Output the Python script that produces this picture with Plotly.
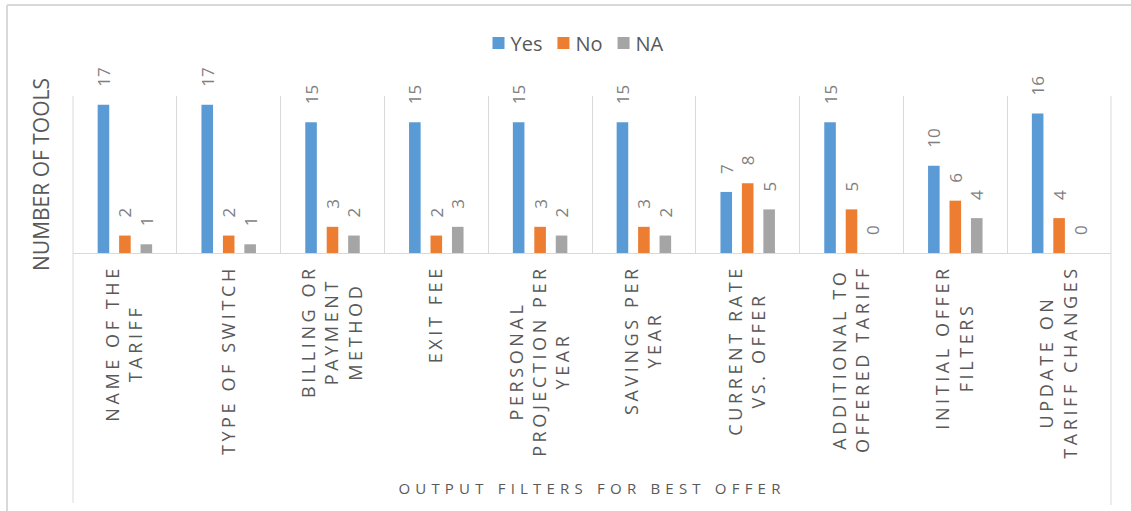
import plotly.graph_objects as go

# ---------------- data ----------------
categories = [
    "Name of the tariff", "Type of switch", "Billing or payment method", "Exit fee",
    "Personal projection per year", "Savings per year", "Current rate vs. offer",
    "Additional to offered tariff", "Initial offer filters", "Update on tariff changes",
]
tick_labels = [
    "NAME OF THE<br>TARIFF", "TYPE OF SWITCH", "BILLING OR<br>PAYMENT<br>METHOD", "EXIT FEE",
    "PERSONAL<br>PROJECTION PER<br>YEAR", "SAVINGS PER<br>YEAR", "CURRENT RATE<br>VS. OFFER",
    "ADDITIONAL TO<br>OFFERED TARIFF", "INITIAL OFFER<br>FILTERS", "UPDATE ON<br>TARIFF CHANGES",
]
yes_values = [17, 17, 15, 15, 15, 15, 7, 15, 10, 16]
no_values = [2, 2, 3, 2, 3, 3, 8, 5, 6, 4]
na_values = [1, 1, 2, 3, 2, 2, 5, 0, 4, 0]

series = [("Yes", yes_values, "#5B9BD5"), ("No", no_values, "#ED7D31"), ("NA", na_values, "#A5A5A5")]

FONT = "Open Sans"
TXT = "#595959"
GRID = "#D9D9D9"

W, H = 1131, 511
ML, MR, MT, MB = 73, 20, 96, 258
PW, PH = W - ML - MR, H - MT - MB


def px_x(px):
    return (px - ML) / PW


def px_y(py):
    return (H - MB - py) / PH


fig = go.Figure()
for name, vals, col in series:
    fig.add_trace(go.Bar(
        name=name, x=categories, y=vals, marker=dict(color=col, line=dict(width=0)),
        text=vals, textposition="outside", textangle=-90,
        textfont=dict(family=FONT, size=17, color="#7F7F7F"),
        cliponaxis=False, constraintext="none",
    ))

shapes = [
    # long left / right category boundaries
    dict(type="line", xref="paper", yref="paper", x0=0, x1=0, y0=1, y1=px_y(503),
         line=dict(color=GRID, width=1)),
    dict(type="line", xref="paper", yref="paper", x0=1, x1=1, y0=1, y1=px_y(505),
         line=dict(color=GRID, width=1)),
    # chart border (left and top)
    dict(type="line", xref="paper", yref="paper", x0=px_x(7), x1=px_x(7), y0=px_y(5), y1=px_y(512),
         line=dict(color=GRID, width=2)),
    dict(type="line", xref="paper", yref="paper", x0=px_x(7), x1=px_x(1132), y0=px_y(5), y1=px_y(5),
         line=dict(color=GRID, width=2)),
]

fig.update_layout(
    width=W, height=H, autosize=False,
    margin=dict(l=ML, r=MR, t=MT, b=MB, pad=0),
    paper_bgcolor="white", plot_bgcolor="white",
    font=dict(family=FONT, color=TXT),
    barmode="group", bargap=0.38, bargroupgap=0.46,
    showlegend=True,
    legend=dict(orientation="h", x=px_x(574), xanchor="center", y=px_y(43), yanchor="middle",
                font=dict(family=FONT, size=20, color=TXT), bgcolor="rgba(0,0,0,0)"),
    shapes=shapes,
    xaxis=dict(
        type="category", tickmode="array", tickvals=categories, ticktext=tick_labels,
        tickson="boundaries", showgrid=True, gridcolor=GRID, gridwidth=1,
        showline=True, linecolor=GRID, linewidth=1, ticks="", tickangle=-90,
        tickfont=dict(family=FONT, size=18, color=TXT), ticklabelstandoff=4,
        automargin=False,
        title=dict(text="OUTPUT FILTERS FOR BEST OFFER", font=dict(family=FONT, size=15, color=TXT),
                   standoff=76),
    ),
    yaxis=dict(
        range=[0, 18], showticklabels=False, showgrid=False, zeroline=False, showline=False,
        ticks="", automargin=False,
        title=dict(text="NUMBER OF TOOLS", font=dict(family=FONT, size=21, color=TXT), standoff=16),
    ),
)

post = """
var gd = document.getElementById('{plot_id}');
gd.querySelectorAll('.xtick text').forEach(function(t){
  t.style.letterSpacing = '3.6px';
  var lines = t.querySelectorAll('tspan.line');
  if (lines.length < 2) return;
  var w = 0;
  lines.forEach(function(l){ w = Math.max(w, l.getComputedTextLength()); });
  var a = t.getAttribute('text-anchor');
  var sgn = (a === 'end') ? -1 : (a === 'start' ? 1 : 0);
  t.setAttribute('text-anchor', 'middle');
  lines.forEach(function(l){
    var x = parseFloat(l.getAttribute('x')) || 0;
    l.setAttribute('x', x + sgn * w / 2);
  });
});
var xt = gd.querySelector('.g-xtitle text');
if (xt) { xt.style.letterSpacing = '5.2px'; }
gd.querySelectorAll('.bars .point text').forEach(function(t){
  var tr = t.getAttribute('transform') || '';
  t.setAttribute('transform', 'translate(0,-15) ' + tr);
});
// tighter legend: symbol-to-text gap and item spacing like the office style
try {
  var items = Array.prototype.slice.call(gd.querySelectorAll('.legend .traces'));
  if (items.length) {
    var parse = function(g){
      var m = /translate\\(\\s*([-\\d.e]+)[ ,]+([-\\d.e]+)/.exec(g.getAttribute('transform') || '');
      return m ? [parseFloat(m[1]), parseFloat(m[2])] : [0, 0];
    };
    var first = parse(items[0]);
    var lastOld = parse(items[items.length - 1]);
    var lens = items.map(function(g){ return g.querySelector('.legendtext').getComputedTextLength(); });
    var oldRight = lastOld[0] + 40 + lens[lens.length - 1];
    var xs = [first[0]];
    for (var i = 1; i < items.length; i++) { xs.push(xs[i - 1] + lens[i - 1] + 33); }
    var newRight = xs[xs.length - 1] + 32 + lens[lens.length - 1];
    var shift = (oldRight - newRight) / 2;
    items.forEach(function(g, i){
      var p = parse(g);
      g.querySelector('.legendtext').setAttribute('x', 32);
      g.setAttribute('transform', 'translate(' + (xs[i] + shift) + ',' + p[1] + ')');
    });
  }
} catch (e) {}
"""

fig.write_html("out.html", post_script=post)
